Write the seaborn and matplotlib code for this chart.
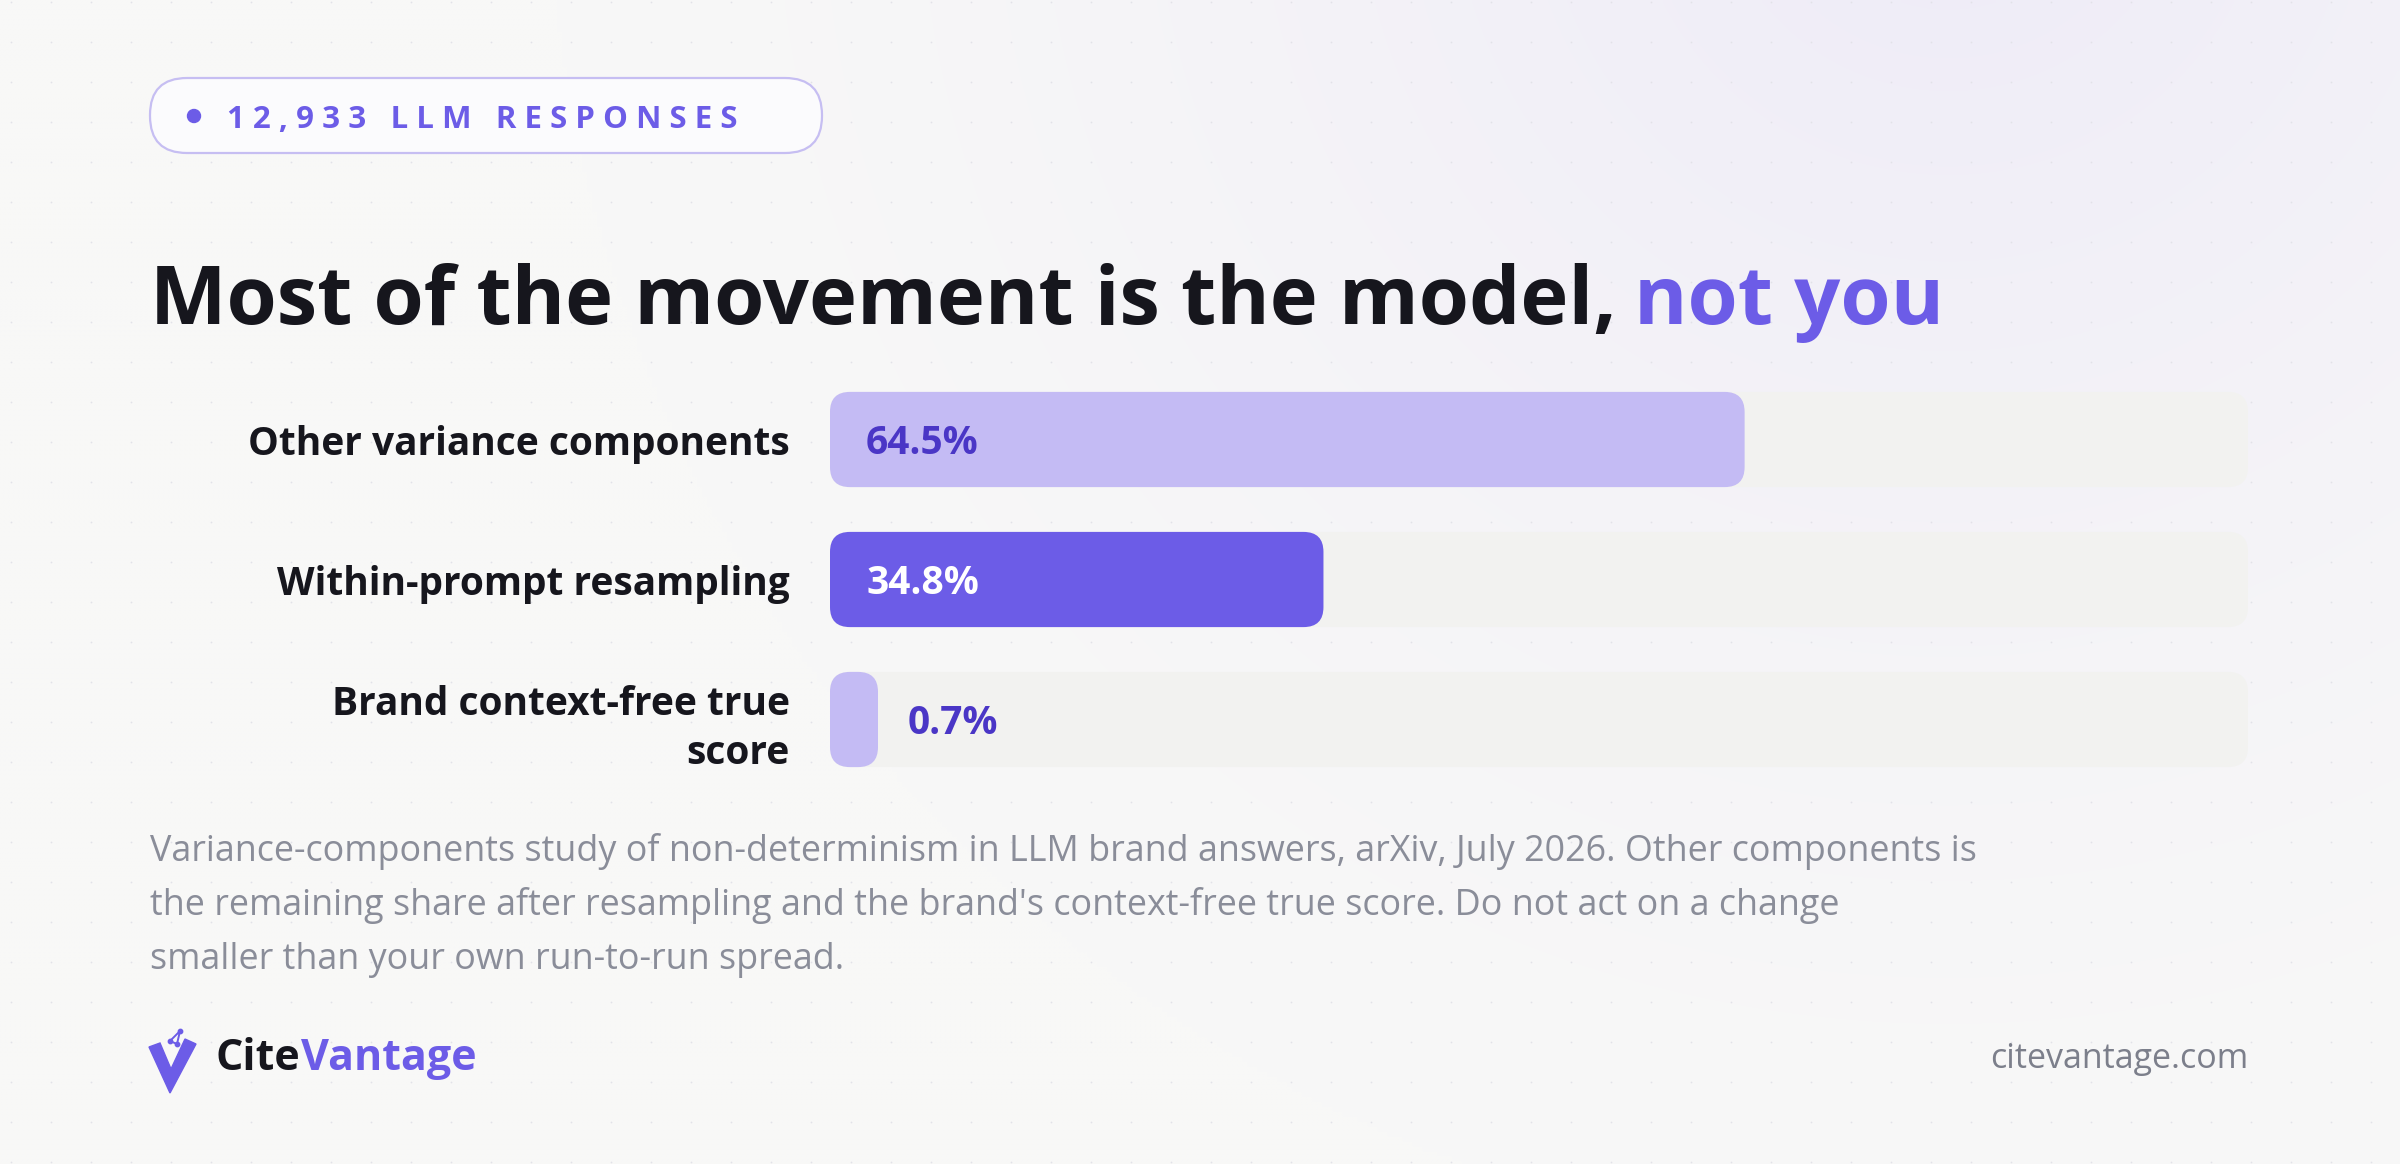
import matplotlib.pyplot as plt
import numpy as np
import pandas as pd
import seaborn as sns
from matplotlib.patches import Circle, FancyBboxPatch, Polygon

# --- data -----------------------------------------------------------------
categories = [
    "Other variance components",
    "Within-prompt resampling",
    "Brand context-free true\nscore",
]
shares = [64.5, 34.8, 0.7]
highlighted = ["Within-prompt resampling"]

badge_text = "12,933 LLM RESPONSES"
title_main = "Most of the movement is the model,"
title_accent = "not you"
footnote_lines = [
    "Variance-components study of non-determinism in LLM brand answers, arXiv, July 2026. Other components is",
    "the remaining share after resampling and the brand's context-free true score. Do not act on a change",
    "smaller than your own run-to-run spread.",
]
brand_dark = "Cite"
brand_accent = "Vantage"
site = "citevantage.com"

# --- style ------------------------------------------------------------------
PURPLE = "#6C5CE7"
LAVENDER = "#C4BBF4"
DEEP = "#4A36C6"
INK = "#16161D"
GREY = "#8A8D99"
TRACK = "#F2F2F0"

W, H = 2400, 1164
sns.set_theme(style="white")
plt.rcParams["font.family"] = ["Open Sans", "DejaVu Sans"]

fig = plt.figure(figsize=(W / 100, H / 100), dpi=100)

# background in pixel coordinates
bg = fig.add_axes([0, 0, 1, 1])
bg.set_xlim(0, W)
bg.set_ylim(H, 0)
bg.axis("off")

gx, gy = np.meshgrid(np.linspace(0, W, 480), np.linspace(0, H, 233))
dist = np.hypot(gx - 1950, gy + 150) / 1400
glow = np.clip(1 - dist, 0, 1) ** 1.4
base = np.array([248, 248, 247]) / 255
tint = np.array([238, 235, 248]) / 255
img = base + (tint - base) * glow[..., None]
bg.imshow(img, extent=(0, W, H, 0), interpolation="bilinear", aspect="auto", zorder=0)

dx, dy = np.meshgrid(np.arange(11, W, 40), np.arange(2, H, 40))
bg.scatter(dx.ravel(), dy.ravel(), s=1.6, color="#E2E2E8", linewidths=0, zorder=1)

# badge
bg.add_patch(FancyBboxPatch((150, 78), 672, 75, boxstyle="round,pad=0,rounding_size=37",
                            facecolor="#FBFBFD", edgecolor="#C6BEF2", linewidth=1.6, zorder=2))
bg.add_patch(Circle((194, 116), 6.5, color=PURPLE, zorder=3))
spaced = "   ".join(" ".join(word) for word in badge_text.split(" "))
bg.text(227, 128, spaced, fontsize=22.5, fontweight="bold", color=PURPLE, va="baseline", zorder=3)

# title
t1 = bg.text(150, 324, title_main, fontsize=58.5, fontweight="bold", color=INK, va="baseline")
fig.canvas.draw()
renderer = fig.canvas.get_renderer()
x_end = t1.get_window_extent(renderer).x1
bg.text(x_end + 17, 324, title_accent, fontsize=58.5, fontweight="bold", color=PURPLE, va="baseline")

# --- bars -------------------------------------------------------------------
df = pd.DataFrame({"category": categories, "share": shares})
colors = {c: (PURPLE if c in highlighted else LAVENDER) for c in categories}

ax_left, ax_width = 830, 1418
ax_top, ax_height = 369.5, 420
ax = fig.add_axes([ax_left / W, 1 - (ax_top + ax_height) / H, ax_width / W, ax_height / H])
ax.set_facecolor("none")

sns.barplot(data=df, x="share", y="category", hue="category", palette=colors,
            orient="h", width=0.68, saturation=1, legend=False, ax=ax)
ax.set_xlim(0, 100)
ax.set_ylim(2.5, -0.5)

px_x = ax_width / 100          # pixels per x unit
px_y = ax_height / 3           # pixels per y unit
aspect = px_x / px_y
radius = 20 / px_x
min_w = 48 / px_x

for p in list(ax.patches):
    x, y, w, h = p.get_x(), p.get_y(), p.get_width(), p.get_height()
    fc = p.get_facecolor()
    p.remove()
    ax.add_patch(FancyBboxPatch((0, y), 100, h, boxstyle=f"round,pad=0,rounding_size={radius}",
                                mutation_aspect=aspect, facecolor=TRACK, edgecolor="none", zorder=1))
    ax.add_patch(FancyBboxPatch((x, y), max(w, min_w), h, boxstyle=f"round,pad=0,rounding_size={radius}",
                                mutation_aspect=aspect, facecolor=fc, edgecolor="none", zorder=2))

for i, (cat, val) in enumerate(zip(categories, shares)):
    shown = max(val, min_w)
    if val < 5:
        xt, col = shown + 30 / px_x, DEEP
    else:
        xt, col = 36 / px_x, ("white" if cat in highlighted else DEEP)
    ax.text(xt, i, f"{val:.1f}%", fontsize=28, fontweight="bold", color=col,
            va="center_baseline", ha="left", zorder=3)

ax.set_xlabel("")
ax.set_ylabel("")
ax.set_xticks([])
ax.tick_params(axis="y", length=0, pad=29, labelsize=28, labelcolor=INK)
for lab in ax.get_yticklabels():
    lab.set_fontweight("bold")
    lab.set_linespacing(1.35)
sns.despine(ax=ax, left=True, bottom=True)

# --- footer -----------------------------------------------------------------
for k, line in enumerate(footnote_lines):
    bg.text(150, 861 + 54 * k, line, fontsize=25.8, color=GREY, va="baseline")

bg.add_patch(Polygon([(149, 1047), (160, 1043), (171, 1069), (185, 1039), (196, 1044), (170, 1093)],
                     closed=True, color=PURPLE, zorder=3))
bg.plot([170, 180, 177, 170], [1041, 1031, 1044, 1041], color=PURPLE, lw=1.4, zorder=3)
bg.scatter([170, 180, 177], [1041, 1031, 1044], s=10, color=PURPLE, zorder=3)

b1 = bg.text(216, 1070, brand_dark, fontsize=31, fontweight="bold", color=INK, va="baseline")
fig.canvas.draw()
bx = b1.get_window_extent(fig.canvas.get_renderer()).x1
bg.text(bx, 1070, brand_accent, fontsize=31, fontweight="bold", color=PURPLE, va="baseline")

bg.text(2248, 1068, site, fontsize=24.5, color="#7C7F8B", ha="right", va="baseline")

fig.savefig("out.png", dpi=100)
